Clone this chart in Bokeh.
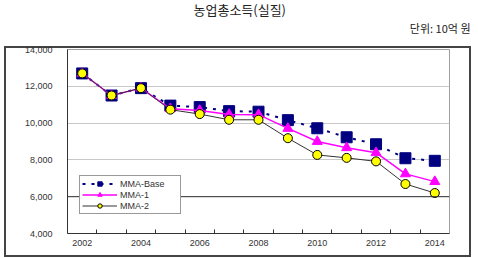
from bokeh.plotting import figure
from bokeh.models import (FixedTicker, NumeralTickFormatter, Legend, LegendItem, Title,
                          Span, Range1d)
from bokeh.embed import file_html
from bokeh.resources import INLINE

years = [2002, 2003, 2004, 2005, 2006, 2007, 2008, 2009, 2010, 2011, 2012, 2013, 2014]
mma_base = [12700, 11500, 11900, 10950, 10870, 10650, 10620, 10160, 9720, 9230, 8850, 8090, 7950]
mma_1 = [12700, 11500, 11900, 10780, 10690, 10470, 10460, 9710, 9000, 8660, 8390, 7240, 6820]
mma_2 = [12700, 11500, 11900, 10730, 10490, 10180, 10180, 9180, 8270, 8110, 7920, 6690, 6200]
series_names = ["MMA-Base", "MMA-1", "MMA-2"]
y_ticks = [4000, 6000, 8000, 10000, 12000, 14000]
x_label_years = [2002, 2004, 2006, 2008, 2010, 2012, 2014]
x_boundaries = [y + 0.5 for y in years[:-1]]
dark_gridline = 6000
title_text = "농업총소득(실질)"
unit_text = "단위: 10억 원"

FONT = "Noto Sans CJK KR"
TICKFONT = "Liberation Sans"

p = figure(width=478, height=258, output_backend="svg", toolbar_location=None, title=None,
           x_range=Range1d(years[0] - 0.5, years[-1] + 0.5),
           y_range=Range1d(y_ticks[0], y_ticks[-1]),
           min_border_left=67, min_border_right=29, min_border_top=49, min_border_bottom=25)
p.background_fill_color = "white"
p.border_fill_color = None
p.outline_line_color = "#a0a0a0"
p.outline_line_width = 1

# outer chart box drawn as the host element's background (canvas border is transparent)
p.styles = {
    "background-color": "white",
    "background-image": ", ".join(["linear-gradient(#444444, #444444)"] * 4),
    "background-size": "467px 2px, 467px 2px, 2px 210px, 2px 210px",
    "background-position": "4px 46px, 4px 255px, 4px 46px, 469px 46px",
    "background-repeat": "no-repeat",
}

# axes
p.xaxis.ticker = FixedTicker(ticks=x_label_years, minor_ticks=x_boundaries)
p.xaxis.major_tick_line_color = None
p.xaxis.major_tick_in = 0
p.xaxis.major_tick_out = 0
p.xaxis.minor_tick_in = 4
p.xaxis.minor_tick_out = 0
p.xaxis.minor_tick_line_color = "#333333"
p.xaxis.axis_line_color = "#333333"
p.xaxis.major_label_text_font = TICKFONT
p.xaxis.major_label_text_font_size = "9px"
p.xaxis.major_label_text_color = "#333333"
p.xaxis.major_label_standoff = 6

p.yaxis.ticker = FixedTicker(ticks=y_ticks)
p.yaxis.formatter = NumeralTickFormatter(format="0,0")
p.yaxis.major_tick_line_color = None
p.yaxis.major_tick_in = 0
p.yaxis.major_tick_out = 0
p.yaxis.minor_tick_line_color = None
p.yaxis.axis_line_color = "#333333"
p.yaxis.major_label_text_font = TICKFONT
p.yaxis.major_label_text_font_size = "9px"
p.yaxis.major_label_text_color = "#333333"
p.yaxis.major_label_standoff = 15

p.xgrid.grid_line_color = None
p.ygrid.grid_line_color = "#c8c8c8"
p.ygrid.grid_line_width = 1
p.add_layout(Span(location=dark_gridline, dimension="width", line_color="#333333", line_width=1))

# series
l0 = p.line(years, mma_base, line_color="#000080", line_width=2, line_dash="3 6")
s0 = p.scatter(years, mma_base, marker="square", size=11, fill_color="#000080", line_color="#000080")
l1 = p.line(years, mma_1, line_color="#ff00ff", line_width=1.5)
s1 = p.scatter(years, mma_1, marker="triangle", size=10, fill_color="#ff00ff", line_color="#ff00ff")
l2 = p.line(years, mma_2, line_color="#333333", line_width=1)
s2 = p.scatter(years, mma_2, marker="circle", size=9, fill_color="#ffff00", line_color="#000000", line_width=1)

legend = Legend(items=[LegendItem(label=series_names[0], renderers=[l0, s0]),
                       LegendItem(label=series_names[1], renderers=[l1, s1]),
                       LegendItem(label=series_names[2], renderers=[l2, s2])],
                location=(12, 19))
legend.label_text_font = TICKFONT
legend.label_text_font_size = "9px"
legend.label_text_color = "#333333"
legend.label_width = 58
legend.glyph_width = 35
legend.glyph_height = 11
legend.label_height = 11
legend.label_standoff = 3
legend.spacing = 0
legend.padding = 2
legend.margin = 0
legend.border_line_color = "#333333"
legend.border_line_width = 1
legend.background_fill_alpha = 1
p.add_layout(legend, "center")

# titles: first added sits closest to the frame
p.add_layout(Title(text=unit_text, align="right", offset=-21, text_font=FONT,
                   text_font_size="11px", text_font_style="normal", text_color="#222222",
                   standoff=28), "above")
p.add_layout(Title(text=title_text, align="left", offset=126, text_font=FONT,
                   text_font_size="13px", text_font_style="normal", text_color="#222222",
                   standoff=-31), "above")

open("out.html", "w").write(file_html(p, INLINE))
